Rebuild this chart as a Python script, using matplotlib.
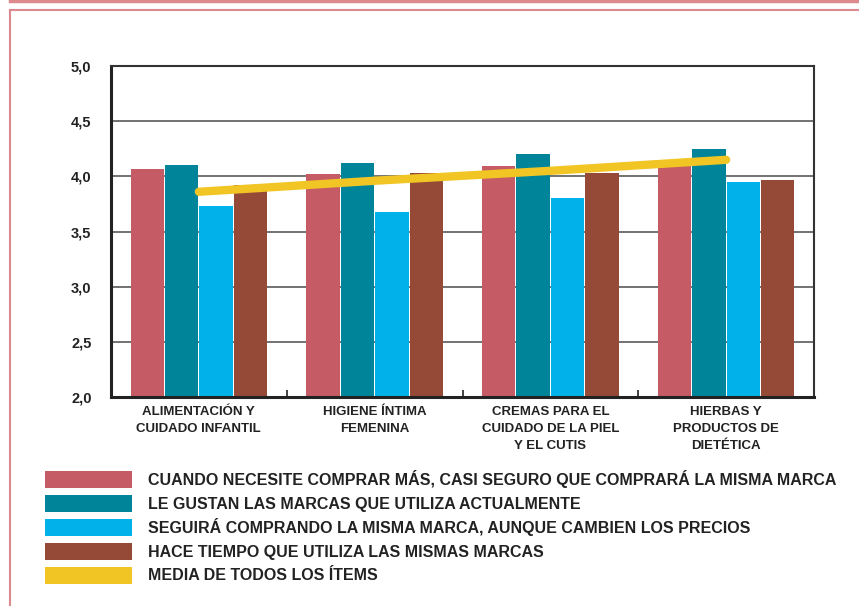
import numpy as np
import matplotlib.pyplot as plt
from matplotlib.patches import Rectangle
from matplotlib.lines import Line2D

categories = ['ALIMENTACIÓN Y\nCUIDADO INFANTIL', 'HIGIENE ÍNTIMA\nFEMENINA',
              'CREMAS PARA EL\nCUIDADO DE LA PIEL\nY EL CUTIS', 'HIERBAS Y\nPRODUCTOS DE\nDIETÉTICA']
series_names = ['CUANDO NECESITE COMPRAR MÁS, CASI SEGURO QUE COMPRARÁ LA MISMA MARCA',
                'LE GUSTAN LAS MARCAS QUE UTILIZA ACTUALMENTE',
                'SEGUIRÁ COMPRANDO LA MISMA MARCA, AUNQUE CAMBIEN LOS PRECIOS',
                'HACE TIEMPO QUE UTILIZA LAS MISMAS MARCAS']
compra_mas = [4.07, 4.02, 4.09, 4.12]
le_gustan = [4.10, 4.12, 4.20, 4.25]
seguira = [3.73, 3.68, 3.80, 3.95]
hace_tiempo = [3.92, 4.03, 4.03, 3.97]
media = [3.86, 3.96, 4.05, 4.15]
media_name = 'MEDIA DE TODOS LOS ÍTEMS'
yticks = [2.0, 2.5, 3.0, 3.5, 4.0, 4.5, 5.0]

colors = ['#c55b65', '#00849a', '#00b1ea', '#954a37']
yellow = '#f1c523'
pink = '#dc8a8e'
txt = '#222222'

plt.rcParams['font.family'] = ['Liberation Sans', 'DejaVu Sans']

fig = plt.figure(figsize=(8.59, 6.06), dpi=100)
W, H = 859, 606
ax = fig.add_axes([111 / W, 1 - 397 / H, (814 - 111) / W, (397 - 66) / H])

x = np.arange(len(categories))
bw = 0.19
step = 0.196
for i, vals in enumerate([compra_mas, le_gustan, seguira, hace_tiempo]):
    ax.bar(x + (i - 1.5) * step, np.array(vals) - 2.0, bw, bottom=2.0,
           color=colors[i], zorder=2, linewidth=0)
ax.plot(x, media, color=yellow, lw=6, solid_capstyle='round', zorder=3)

ax.set_xlim(-0.5, 3.5)
ax.set_ylim(2.0, 5.0)
ax.set_yticks(yticks)
ax.set_yticklabels([f'{v:.1f}'.replace('.', ',') for v in yticks],
                   fontsize=10.5, fontweight='bold', color=txt)
ax.tick_params(axis='y', length=0, pad=14)
for v in yticks[1:-1]:
    ax.axhline(v, color='#5a5a5a', lw=1.2, zorder=1)
ax.set_xticks([0.5, 1.5, 2.5])
ax.set_xticklabels([])
ax.tick_params(axis='x', direction='in', length=5, width=1.2, color=txt)
for j, c in enumerate(categories):
    ax.text(j, 1.92, c, ha='center', va='top', fontsize=9.5, fontweight='bold',
            color=txt, linespacing=1.55)
for s in ['left', 'bottom']:
    ax.spines[s].set_linewidth(2.2)
    ax.spines[s].set_color(txt)
ax.spines['right'].set_linewidth(1.5)
ax.spines['right'].set_color('#333333')
ax.spines['top'].set_linewidth(1.5)
ax.spines['top'].set_color('#333333')

# legend
labels = series_names + [media_name]
for k, (c, lab) in enumerate(zip(colors + [yellow], labels)):
    yc = 479 + 24 * k
    fig.add_artist(Rectangle((45 / W, 1 - (yc + 8.5) / H), 87 / W, 17 / H,
                             facecolor=c, edgecolor='none'))
    fig.text(148 / W, 1 - (yc + 5.5) / H, lab, ha='left', va='baseline', fontsize=11.5,
             fontweight='bold', color=txt)

# pink frame
fig.add_artist(Line2D([10 / W, 1], [1 - 1 / H, 1 - 1 / H], color=pink, lw=2.5))
fig.add_artist(Line2D([10 / W, 1], [1 - 10 / H, 1 - 10 / H], color=pink, lw=1.5))
fig.add_artist(Line2D([10 / W, 10 / W], [0, 1 - 10 / H], color=pink, lw=1.5))

fig.savefig('out.png', dpi=100)
